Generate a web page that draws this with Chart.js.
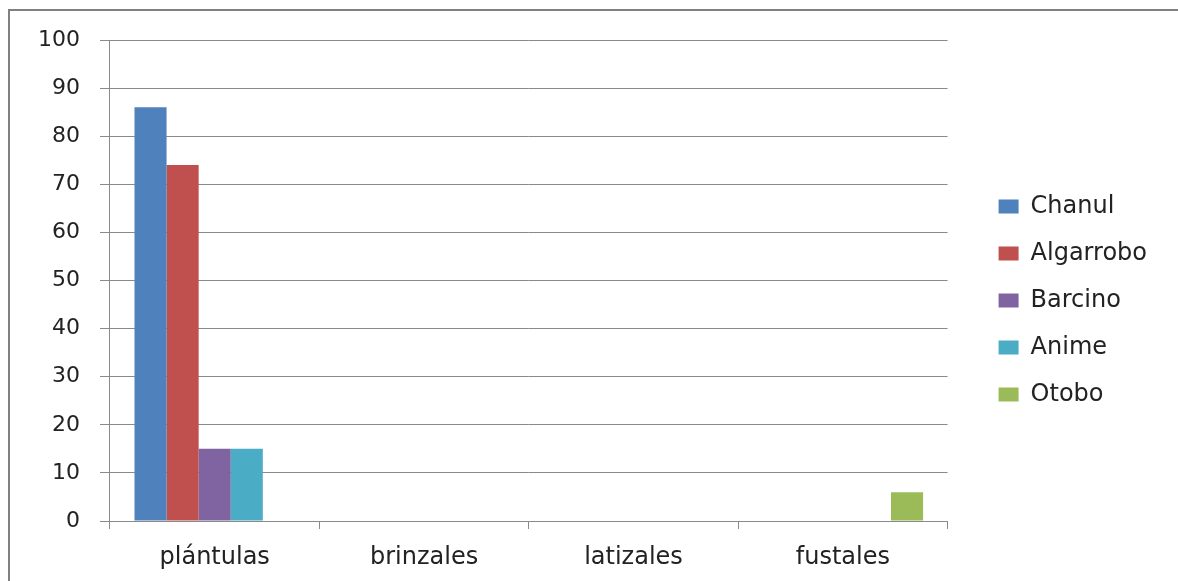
<!DOCTYPE html>
<html lang="es">
<head>
<meta charset="UTF-8">
<title>Regeneración por especie</title>
<script src="https://cdn.jsdelivr.net/npm/chart.js"></script>
<style>
  html, body { margin: 0; padding: 0; background: #fff; }
  #wrap { position: relative; width: 1178px; height: 581px; }
  #frame {
    position: absolute; left: 8px; top: 9px; right: -10px; bottom: -10px;
    border-top: 2px solid #808080; border-left: 2px solid #808080;
    pointer-events: none;
  }
</style>
</head>
<body>
<div id="wrap">
  <canvas id="chart" width="1178" height="581"></canvas>
  <div id="frame"></div>
</div>
<script>
  // categorias de tamaño y porcentaje por especie
  const categorias = ["plántulas", "brinzales", "latizales", "fustales"];
  const chanul    = [86, 0, 0, 0];
  const algarrobo = [74, 0, 0, 0];
  const barcino   = [15, 0, 0, 0];
  const anime     = [15, 0, 0, 0];
  const otobo     = [0, 0, 0, 6];

  const lineGray = "#8a8a8a";
  const fuente = "'DejaVu Sans', sans-serif";

  // sube un poco la leyenda para centrarla con el área del gráfico
  const subirLeyenda = {
    id: "subirLeyenda",
    afterLayout(chart) {
      const lg = chart.legend;
      if (lg) { lg.top -= 10; lg.bottom -= 10; }
    }
  };

  new Chart(document.getElementById("chart"), {
    type: "bar",
    data: {
      labels: categorias,
      datasets: [
        { label: "Chanul",    data: chanul,    backgroundColor: "#4F81BD" },
        { label: "Algarrobo", data: algarrobo, backgroundColor: "#C0504D" },
        { label: "Barcino",   data: barcino,   backgroundColor: "#8064A2" },
        { label: "Anime",     data: anime,     backgroundColor: "#4BACC6" },
        { label: "Otobo",     data: otobo,     backgroundColor: "#9BBB59" }
      ]
    },
    plugins: [subirLeyenda],
    options: {
      responsive: false,
      animation: false,
      devicePixelRatio: 1,
      categoryPercentage: 0.766,
      barPercentage: 1,
      layout: { padding: { left: 18, top: 40, right: 21, bottom: 0 } },
      plugins: {
        tooltip: { enabled: false },
        legend: {
          position: "right",
          labels: {
            boxWidth: 20,
            boxHeight: 14,
            padding: 23,
            color: "#222",
            font: { family: fuente, size: 24 }
          }
        }
      },
      scales: {
        x: {
          grid: {
            drawOnChartArea: false,
            tickLength: 8,
            color: lineGray
          },
          border: { color: lineGray },
          ticks: {
            padding: 14,
            color: "#222",
            font: { family: fuente, size: 24 }
          },
          afterFit: s => { s.height = 60; }
        },
        y: {
          min: 0,
          max: 100,
          ticks: {
            stepSize: 10,
            padding: 20,
            color: "#222",
            font: { family: fuente, size: 22 }
          },
          grid: { color: lineGray, tickLength: 10 },
          border: { color: lineGray }
        },
        // hueco entre el área del gráfico y la leyenda
        hueco: {
          type: "linear",
          position: "right",
          display: true,
          ticks: { display: false },
          grid: { display: false },
          border: { display: false },
          afterFit: s => { s.width = 28; }
        }
      }
    }
  });
</script>
</body>
</html>
